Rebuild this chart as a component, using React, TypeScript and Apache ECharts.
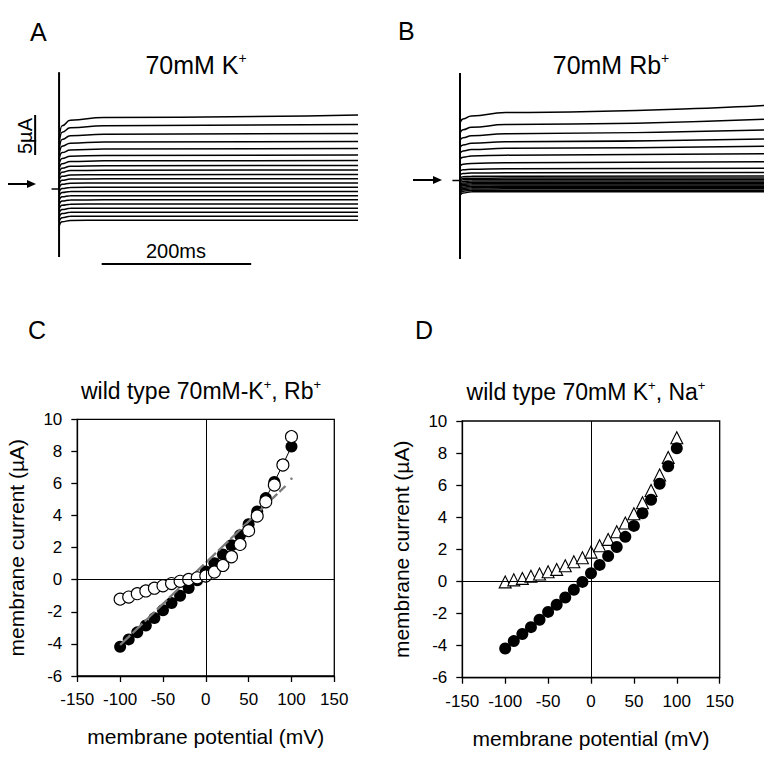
import React, { useEffect, useRef } from "react";
import * as echarts from "echarts";

const FONT = "'Liberation Sans', Arial, Helvetica, sans-serif";

// ---------- Panel A / B : current traces (µA) at time points (ms) ----------
const traceTimes = [0, 4, 15, 60, 400];

// Panel A (70 mM K+), one entry per voltage step, top (+100 mV) to bottom (-100 mV)
const kTraceT0 = [6.2, 5.6, 4.9, 4.3, 3.7, 3.1, 2.5, 2.0, 1.5, 1.05, 0.6, 0.1, -0.4, -0.9, -1.4, -1.95, -2.5, -3.0, -3.55, -4.05, -4.65];
const kTraceT4 = [7.9, 7.1, 6.2, 5.35, 4.55, 3.8, 3.15, 2.6, 2.1, 1.58, 1.08, 0.58, 0.06, -0.45, -0.98, -1.5, -2.03, -2.56, -3.07, -3.58, -4.1];
const kTraceT15 = [8.6, 7.65, 6.65, 5.72, 4.88, 4.1, 3.43, 2.83, 2.3, 1.75, 1.24, 0.72, 0.2, -0.32, -0.85, -1.37, -1.9, -2.42, -2.92, -3.42, -3.93];
const kTraceT60 = [8.95, 7.9, 6.85, 5.88, 5.0, 4.2, 3.52, 2.9, 2.35, 1.79, 1.27, 0.75, 0.22, -0.3, -0.83, -1.35, -1.88, -2.4, -2.9, -3.4, -3.9];
const kTraceT400 = [9.25, 8.06, 6.94, 5.94, 5.06, 4.25, 3.56, 2.94, 2.38, 1.81, 1.28, 0.75, 0.22, -0.3, -0.83, -1.35, -1.88, -2.4, -2.9, -3.4, -3.9];

// Panel B (70 mM Rb+)
const rbTraceT0 = [7.2, 5.9, 5.0, 4.1, 3.4, 2.65, 1.8, 1.15, 0.7, 0.3, 0.08, -0.1, -0.3, -0.5, -0.7, -0.88, -1.08, -1.25, -1.45, -1.65, -1.9];
const rbTraceT4 = [7.7, 6.35, 5.35, 4.45, 3.7, 2.92, 2.04, 1.34, 0.88, 0.48, 0.25, 0.08, -0.11, -0.31, -0.48, -0.64, -0.82, -0.99, -1.16, -1.34, -1.55];
const rbTraceT15 = [8.06, 6.65, 5.6, 4.65, 3.86, 3.05, 2.14, 1.41, 0.93, 0.52, 0.29, 0.12, -0.07, -0.26, -0.42, -0.57, -0.74, -0.9, -1.06, -1.23, -1.42];
const rbTraceT60 = [8.5, 7.0, 5.85, 4.85, 4.02, 3.17, 2.22, 1.46, 0.96, 0.54, 0.3, 0.13, -0.06, -0.25, -0.41, -0.56, -0.73, -0.88, -1.04, -1.21, -1.4];
const rbTraceT400 = [9.38, 7.65, 6.31, 5.19, 4.28, 3.35, 2.34, 1.53, 1.0, 0.56, 0.31, 0.13, -0.06, -0.25, -0.41, -0.56, -0.73, -0.88, -1.04, -1.21, -1.4];

// ---------- Panel C / D : I-V relations ----------
const potentials = [-100, -90, -80, -70, -60, -50, -40, -30, -20, -10, 0, 10, 20, 30, 40, 50, 60, 70, 80, 90, 100];
const kCurrent = [-4.18, -3.72, -3.28, -2.85, -2.39, -1.9, -1.45, -1.0, -0.52, -0.03, 0.51, 1.03, 1.58, 2.15, 2.78, 3.46, 4.25, 5.09, 6.09, 7.18, 8.3];
const rbCurrent = [-1.21, -1.08, -0.87, -0.7, -0.53, -0.38, -0.24, -0.1, 0.02, 0.12, 0.23, 0.48, 0.89, 1.43, 2.2, 3.06, 3.97, 4.86, 5.9, 7.15, 8.92];
const naCurrent = [-0.03, 0.1, 0.19, 0.33, 0.46, 0.6, 0.75, 0.98, 1.23, 1.48, 1.83, 2.22, 2.62, 3.1, 3.64, 4.22, 4.9, 5.67, 6.63, 7.73, 8.96];
const fitPotential = [-100, 93];
const fitCurrent = [-4.07, 5.84];
const fitDot = [100, 6.3];

const xTicksIV = { min: -150, max: 150, interval: 50 };
const yTicksIV = { min: -6, max: 10, interval: 2 };

function traceSeries(cols: number[][], xi: number) {
  const n = cols[0].length;
  const out: any[] = [];
  for (let i = 0; i < n; i++) {
    out.push({
      type: "line",
      xAxisIndex: xi,
      yAxisIndex: xi,
      data: traceTimes.map((t, j) => [t, cols[j][i]]),
      symbol: "none",
      smooth: 0.5,
      smoothMonotone: "x",
      lineStyle: { color: "#000", width: 1.5 },
      silent: true,
      z: 2,
    });
  }
  return out;
}

function plainLine(xi: number, data: number[][], width: number) {
  return {
    type: "line",
    xAxisIndex: xi,
    yAxisIndex: xi,
    data,
    symbol: "none",
    lineStyle: { color: "#000", width },
    silent: true,
    clip: false,
    z: 3,
  };
}

function ivXAxis(gi: number) {
  return {
    type: "value",
    gridIndex: gi,
    ...xTicksIV,
    axisLine: { show: true, onZero: false, lineStyle: { color: "#000", width: 1.3 } },
    axisTick: { show: true, inside: false, length: 6, lineStyle: { color: "#000", width: 1.3 } },
    axisLabel: { color: "#000", fontSize: 17, fontFamily: FONT, margin: 15 },
    splitLine: { show: false },
    name: "membrane potential (mV)",
    nameLocation: "middle",
    nameGap: 50,
    nameTextStyle: { color: "#000", fontSize: 21, fontFamily: FONT },
  };
}

function ivYAxis(gi: number) {
  return {
    type: "value",
    gridIndex: gi,
    ...yTicksIV,
    axisLine: { show: true, onZero: false, lineStyle: { color: "#000", width: 1.3 } },
    axisTick: { show: true, inside: false, length: 6, lineStyle: { color: "#000", width: 1.3 } },
    axisLabel: { color: "#000", fontSize: 17, fontFamily: FONT, margin: 15 },
    splitLine: { show: false },
    name: "membrane current (µA)",
    nameLocation: "middle",
    nameRotate: 90,
    nameGap: 50,
    nameTextStyle: { color: "#000", fontSize: 21, fontFamily: FONT },
  };
}

const zeroMarkLine = {
  silent: true,
  symbol: "none",
  label: { show: false },
  lineStyle: { color: "#000", width: 1, type: "solid", opacity: 1 },
  data: [{ xAxis: 0 }, { yAxis: 0 }],
};

const txt = (text: string, x: number, y: number, size: number, extra: any = {}) => ({
  type: "text",
  x,
  y,
  silent: true,
  style: {
    text,
    fill: "#000",
    font: `${size}px ${FONT}`,
    textAlign: "center",
    textVerticalAlign: "middle",
    ...extra,
  },
});

const richTitle = (text: string, x: number, y: number, size: number, supSize: number) => ({
  type: "text",
  x,
  y,
  silent: true,
  style: {
    text,
    fill: "#000",
    font: `${size}px ${FONT}`,
    textAlign: "center",
    textVerticalAlign: "middle",
    rich: {
      a: { fontSize: size, fontFamily: FONT, fill: "#000", lineHeight: size * 1.2, verticalAlign: "bottom" },
      s: { fontSize: supSize, fontFamily: FONT, fill: "#000", lineHeight: supSize, verticalAlign: "top", padding: [3, 0, 0, 0] },
    },
  },
});

const arrow = (x0: number, x1: number, y: number) => [
  { type: "line", silent: true, shape: { x1: x0, y1: y, x2: x1 - 6, y2: y }, style: { stroke: "#000", lineWidth: 2 } },
  { type: "polygon", silent: true, shape: { points: [[x1 - 9, y - 4], [x1, y], [x1 - 9, y + 4]] }, style: { fill: "#000" } },
];

const filledDot = { color: "#000", opacity: 1 };
const openMark = { color: "#fff", borderColor: "#000", borderWidth: 1.1, opacity: 1 };

export default function App() {
  const ref = useRef<HTMLDivElement>(null);
  useEffect(() => {
    const chart = echarts.init(ref.current!, null, { renderer: "svg" });
    const option: any = {
      animation: false,
      backgroundColor: "#fff",
      grid: [
        { left: 3, top: 61, width: 370, height: 216, outerBoundsMode: "none" },
        { left: 403, top: 52.5, width: 368.6, height: 216, outerBoundsMode: "none" },
        { left: 77.3, top: 419.3, width: 257, height: 256.7, show: true, borderColor: "#000", borderWidth: 1.3, outerBoundsMode: "none" },
        { left: 462.3, top: 421, width: 257.4, height: 256.7, show: true, borderColor: "#000", borderWidth: 1.3, outerBoundsMode: "none" },
      ],
      xAxis: [
        { type: "value", gridIndex: 0, min: -75, max: 420, show: false },
        { type: "value", gridIndex: 1, min: -75, max: 410, show: false },
        ivXAxis(2),
        ivXAxis(3),
      ],
      yAxis: [
        { type: "value", gridIndex: 0, min: -11, max: 16, show: false },
        { type: "value", gridIndex: 1, min: -11, max: 16, show: false },
        ivYAxis(2),
        ivYAxis(3),
      ],
      series: [
        ...traceSeries([kTraceT0, kTraceT4, kTraceT15, kTraceT60, kTraceT400], 0),
        plainLine(0, [[0, 14.6], [0, -8.5]], 2),
        plainLine(0, [[-10, 0], [0, 0]], 1.5),
        plainLine(0, [[-32, 9.25], [-32, 4.25]], 2),
        plainLine(0, [[57, -9.375], [257, -9.375]], 2),
        ...traceSeries([rbTraceT0, rbTraceT4, rbTraceT15, rbTraceT60, rbTraceT400], 1),
        plainLine(1, [[0, 13.44], [0, -9.81]], 2),
        plainLine(1, [[-10, 0], [0, 0]], 1.5),
        // Panel C
        {
          type: "line",
          xAxisIndex: 2,
          yAxisIndex: 2,
          data: potentials.map((v, i) => [v, kCurrent[i]]),
          symbol: "circle",
          symbolSize: 12,
          itemStyle: filledDot,
          lineStyle: { color: "#000", width: 1 },
          markLine: zeroMarkLine,
          silent: true,
          z: 2,
        },
        {
          type: "line",
          xAxisIndex: 2,
          yAxisIndex: 2,
          data: fitPotential.map((v, i) => [v, fitCurrent[i]]),
          symbol: "none",
          lineStyle: { color: "#7a7a7a", width: 2.3, type: [14, 3] },
          silent: true,
          z: 3,
        },
        {
          type: "scatter",
          xAxisIndex: 2,
          yAxisIndex: 2,
          data: [fitDot],
          symbolSize: 2.5,
          itemStyle: { color: "#7a7a7a", opacity: 1 },
          silent: true,
          z: 3,
        },
        {
          type: "scatter",
          xAxisIndex: 2,
          yAxisIndex: 2,
          data: potentials.map((v, i) => [v, rbCurrent[i]]),
          symbol: "circle",
          symbolSize: 12,
          itemStyle: openMark,
          silent: true,
          z: 4,
        },
        // Panel D
        {
          type: "scatter",
          xAxisIndex: 3,
          yAxisIndex: 3,
          data: potentials.map((v, i) => [v, naCurrent[i]]),
          symbol: "triangle",
          symbolSize: 12,
          itemStyle: openMark,
          markLine: zeroMarkLine,
          silent: true,
          z: 2,
        },
        {
          type: "scatter",
          xAxisIndex: 3,
          yAxisIndex: 3,
          data: potentials.map((v, i) => [v, kCurrent[i]]),
          symbol: "circle",
          symbolSize: 12,
          itemStyle: filledDot,
          silent: true,
          z: 3,
        },
      ],
      graphic: [
        txt("A", 30, 32, 25, { textAlign: "left" }),
        txt("B", 398, 31, 25, { textAlign: "left" }),
        txt("C", 28, 330, 25, { textAlign: "left" }),
        txt("D", 415, 330, 25, { textAlign: "left" }),
        richTitle("{a|70mM K}{s|+}", 196, 62.5, 25, 14),
        richTitle("{a|70mM Rb}{s|+}", 611, 62.5, 25, 14),
        richTitle("{a|wild type 70mM-K}{s|+}{a|, Rb}{s|+}", 201, 389, 23, 13),
        richTitle("{a|wild type 70mM K}{s|+}{a|, Na}{s|+}", 586, 390, 23, 13),
        {
          type: "text",
          x: 25,
          y: 136,
          rotation: Math.PI / 2,
          silent: true,
          style: { text: "5µA", fill: "#000", font: `20px ${FONT}`, textAlign: "center", textVerticalAlign: "middle" },
        },
        txt("200ms", 176, 251, 20),
        ...arrow(8, 36, 184),
        ...arrow(413, 442, 180),
      ],
    };
    chart.setOption(option);
    return () => chart.dispose();
  }, []);
  return (
    <div
      ref={ref}
      style={{ position: "absolute", left: 0, top: 0, width: 776, height: 763, background: "#fff" }}
    />
  );
}
